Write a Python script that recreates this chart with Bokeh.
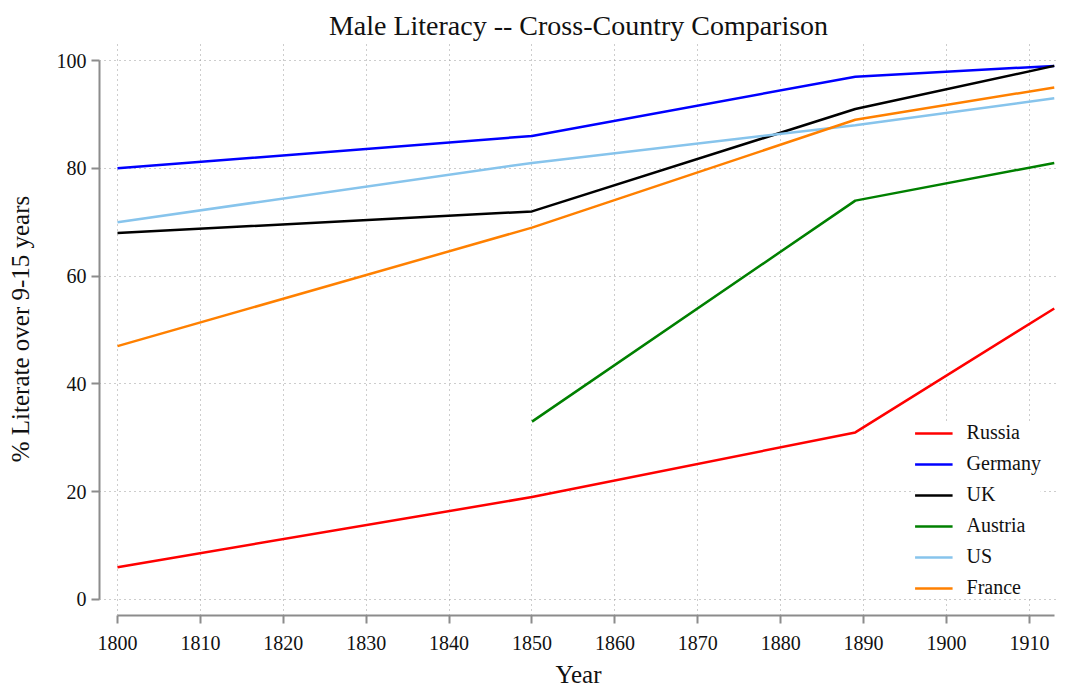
import math
from bokeh.plotting import figure
from bokeh.models import Range1d, FixedTicker, Legend, LegendItem
from bokeh.embed import file_html
from bokeh.resources import INLINE

# ---- data ----
years = [1800, 1850, 1889, 1913]
russia = [6, 19, 31, 54]
germany = [80, 86, 97, 99]
uk = [68, 72, 91, 99]
austria = [float("nan"), 33, 74, 81]
us = [70, 81, 88, 93]
france = [47, 69, 89, 95]

series_names = ["Russia", "Germany", "UK", "Austria", "US", "France"]
series_values = [russia, germany, uk, austria, us, france]
series_colors = ["#ff0000", "#0000ff", "#000000", "#008000", "#87c4ec", "#ff8000"]

x_ticks = [1800, 1810, 1820, 1830, 1840, 1850, 1860, 1870, 1880, 1890, 1900, 1910]
y_ticks = [0, 20, 40, 60, 80, 100]

FONT = "Liberation Serif"

p = figure(
    frame_width=958, frame_height=573,
    x_range=Range1d(1797.83, 1913.39),
    y_range=Range1d(-2.97, 103.34),
    output_backend="svg", toolbar_location=None,
    min_border_left=99, min_border_right=0, min_border_top=42, min_border_bottom=0,
    title="Male Literacy -- Cross-Country Comparison",
)
p.outline_line_color = None
p.background_fill_color = "white"
p.border_fill_color = "white"

p.title.text_font = FONT
p.title.text_font_size = "28px"
p.title.text_font_style = "normal"
p.title.align = "center"
p.title.text_color = "#111111"
p.title.standoff = 3
p.title.offset = 7

for ax in (p.xaxis[0], p.yaxis[0]):
    ax.axis_line_color = "#8c8c8c"
    ax.axis_line_width = 2
    ax.major_tick_line_color = "#8c8c8c"
    ax.major_tick_line_width = 2
    ax.major_tick_out = 8
    ax.major_tick_in = 0
    ax.minor_tick_line_color = None
    ax.major_label_text_font = FONT
    ax.major_label_text_font_size = "20px"
    ax.major_label_text_color = "#111111"
    ax.axis_label_text_font = FONT
    ax.axis_label_text_font_size = "25px"
    ax.axis_label_text_font_style = "normal"
    ax.axis_label_text_color = "#111111"

p.xaxis.ticker = FixedTicker(ticks=x_ticks)
p.yaxis.ticker = FixedTicker(ticks=y_ticks)
p.xaxis.bounds = (1800, 1913)
p.yaxis.bounds = (0, 100)
p.xaxis.axis_label = "Year"
p.yaxis.axis_label = "% Literate over 9-15 years"
p.xaxis.major_label_standoff = 12
p.yaxis.major_label_standoff = 5
p.xaxis.axis_label_standoff = 8
p.yaxis.axis_label_standoff = 20
p.yaxis.major_label_orientation = "horizontal"

for g in (p.xgrid[0], p.ygrid[0]):
    g.grid_line_color = "#9a9a9a"
    g.grid_line_dash = "1 4"
    g.grid_line_width = 1
p.xgrid.ticker = FixedTicker(ticks=x_ticks)
p.ygrid.ticker = FixedTicker(ticks=y_ticks)

items = []
for name, vals, col in zip(series_names, series_values, series_colors):
    r = p.line(years, vals, line_color=col, line_width=2.5)
    items.append(LegendItem(label=name, renderers=[r]))

legend = Legend(items=items, location="bottom_right")
legend.border_line_color = None
legend.background_fill_color = "white"
legend.background_fill_alpha = 1.0
legend.label_text_font = FONT
legend.label_text_font_size = "20px"
legend.label_text_color = "#111111"
legend.glyph_width = 38
legend.glyph_height = 20
legend.label_height = 20
legend.label_standoff = 14
legend.spacing = 8
legend.padding = 16
legend.margin = 16
p.add_layout(legend)

open("out.html", "w").write(file_html(p, INLINE))
